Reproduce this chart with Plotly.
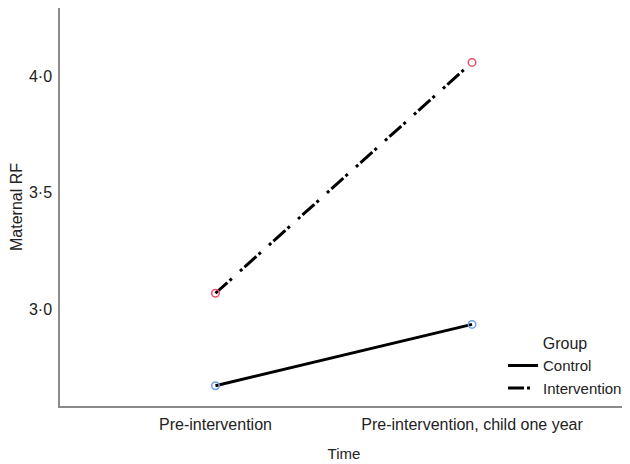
import plotly.graph_objects as go

# Data
time_points = ["Pre-intervention", "Pre-intervention, child one year"]
control_rf = [2.670, 2.934]
intervention_rf = [3.068, 4.061]
y_tick_vals = [3.0, 3.5, 4.0]
y_tick_text = ["3·0", "3·5", "4·0"]

FONT = "Liberation Sans, Arial, sans-serif"
TXT = "#222222"
AXC = "#8a8a8a"

fig = go.Figure()

# Lines (legend entries)
fig.add_trace(go.Scatter(
    x=time_points, y=control_rf, mode="lines", name="Control",
    line=dict(color="black", width=3, dash="solid"),
))
fig.add_trace(go.Scatter(
    x=time_points, y=intervention_rf, mode="lines", name="Intervention",
    line=dict(color="black", width=3, dash="16px,3px,3px,11px,3px,3px"),
))
# Markers on top
fig.add_trace(go.Scatter(
    x=time_points, y=control_rf, mode="markers", showlegend=False,
    marker=dict(symbol="circle-open", size=7.5, color="#6f9fe6", line=dict(width=1.5)),
))
fig.add_trace(go.Scatter(
    x=time_points, y=intervention_rf, mode="markers", showlegend=False,
    marker=dict(symbol="circle-open", size=7.5, color="#e6506e", line=dict(width=1.5)),
))

fig.update_layout(
    width=630, height=464,
    margin=dict(l=52, r=10, t=0, b=66, autoexpand=False),
    paper_bgcolor="white", plot_bgcolor="white",
    font=dict(family=FONT, size=16, color=TXT),
    legend=dict(
        title=dict(text="Group", side="top center", font=dict(size=16, color=TXT)),
        x=0.780, xanchor="left", y=0.195, yanchor="top",
        bgcolor="rgba(0,0,0,0)", borderwidth=0,
        font=dict(size=15, color=TXT), tracegroupgap=0,
    ),
    xaxis=dict(
        type="category", range=[-0.606, 1.608],
        showline=True, linecolor=AXC, linewidth=1.5, mirror=False,
        showgrid=False, zeroline=False, ticks="",
        ticklabelstandoff=3,
        title=dict(text="Time", font=dict(size=15, color=TXT), standoff=17),
        tickfont=dict(size=16, color=TXT),
    ),
    yaxis=dict(
        range=[2.583, 4.295],
        tickvals=y_tick_vals, ticktext=y_tick_text,
        showline=True, linecolor=AXC, linewidth=1.5,
        showgrid=False, zeroline=False, ticks="",
        ticklabelstandoff=3,
        title=dict(text="Maternal RF", font=dict(size=16, color=TXT), standoff=8),
        tickfont=dict(size=16, color=TXT),
    ),
)

fig.write_html("out.html")
